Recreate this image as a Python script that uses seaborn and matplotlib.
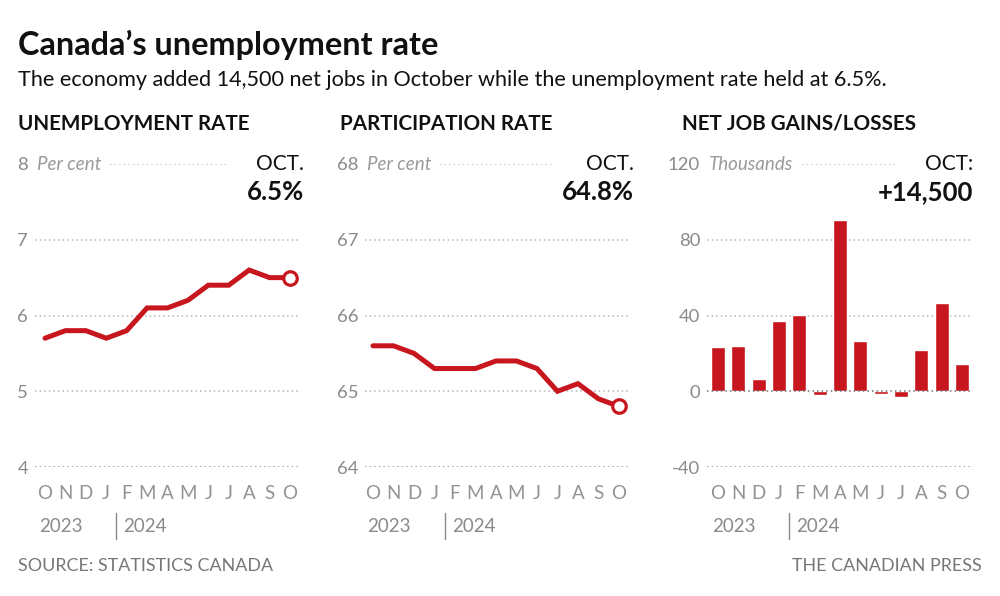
import matplotlib
matplotlib.use("Agg")
import matplotlib.pyplot as plt
import matplotlib.transforms as mtransforms
import seaborn as sns
import pandas as pd

# data, Oct 2023 - Oct 2024
month_ids = ["2023-10", "2023-11", "2023-12", "2024-01", "2024-02", "2024-03", "2024-04",
             "2024-05", "2024-06", "2024-07", "2024-08", "2024-09", "2024-10"]
month_letters = ["O", "N", "D", "J", "F", "M", "A", "M", "J", "J", "A", "S", "O"]
unemployment = [5.7, 5.8, 5.8, 5.7, 5.8, 6.1, 6.1, 6.2, 6.4, 6.4, 6.6, 6.5, 6.5]
participation = [65.6, 65.6, 65.5, 65.3, 65.3, 65.3, 65.4, 65.4, 65.3, 65.0, 65.1, 64.9, 64.8]
net_jobs = [23.6, 24.1, 6.7, 37.0, 40.5, -2.2, 90.4, 26.6, -1.4, -2.8, 22.0, 46.7, 14.5]

unemp_ticks = [4, 5, 6, 7, 8]
part_ticks = [64, 65, 66, 67, 68]
jobs_ticks = [-40, 0, 40, 80, 120]

RED = "#c8161e"
GREY = "#8a8a8a"
GRID = "#b5b5b5"

sns.set_theme(style="white")
plt.rcParams["font.family"] = ["Lato", "DejaVu Sans"]

W, H = 1000, 596
fig = plt.figure(figsize=(W / 100, H / 100), dpi=100)
fig.patch.set_facecolor("white")


def px_axes(x0, x1, y0, y1):
    return fig.add_axes([x0 / W, 1 - y1 / H, (x1 - x0) / W, (y1 - y0) / H])


def fy(y):
    return 1 - y / H


fig.text(18 / W, fy(45), "Canada\u2019s unemployment rate", fontsize=23.3, fontweight="bold",
         color="#111111", va="center", ha="left")
fig.text(18 / W, fy(80), "The economy added 14,500 net jobs in October while the unemployment rate held at 6.5%.",
         fontsize=15.6, color="#111111", va="center", ha="left")
fig.text(18 / W, fy(566), "SOURCE: STATISTICS CANADA", fontsize=12.9, color="#777777", va="center", ha="left")
fig.text(982 / W, fy(566), "THE CANADIAN PRESS", fontsize=12.9, color="#777777", va="center", ha="right")

panels = [
    dict(title="UNEMPLOYMENT RATE", tx=18, ax=(35, 300), xlim=(-0.49, 12.49),
         ticks=unemp_ticks, unit="Per cent", seg=(0.283, 0.725),
         values=unemployment, kind="line", big="6.5%"),
    dict(title="PARTICIPATION RATE", tx=340, ax=(365, 630), xlim=(-0.39, 12.54),
         ticks=part_ticks, unit="Per cent", seg=(0.283, 0.706),
         values=participation, kind="line", big="64.8%"),
    dict(title="NET JOB GAINS/LOSSES", tx=682, ax=(707, 973), xlim=(-0.54, 12.54),
         ticks=jobs_ticks, unit="Thousands", seg=(0.357, 0.707),
         values=net_jobs, kind="bar", big="+14,500"),
]

for p in panels:
    fig.text(p["tx"] / W, fy(124), p["title"], fontsize=14.9, fontweight="bold",
             color="#111111", va="center", ha="left")

    ax = px_axes(p["ax"][0], p["ax"][1], 164, 467)
    df = pd.DataFrame({"month": month_ids, "idx": range(len(month_ids)), "value": p["values"]})

    if p["kind"] == "line":
        sns.lineplot(data=df, x="idx", y="value", ax=ax, color=RED, linewidth=3.6,
                     solid_joinstyle="miter", zorder=3)
        ax.scatter(df["idx"].iloc[-1], df["value"].iloc[-1], s=95, facecolor="white",
                   edgecolor=RED, linewidth=2.3, zorder=4, clip_on=False)
    else:
        sns.barplot(data=df, x="month", y="value", ax=ax, color=RED, width=0.7,
                    saturation=1, zorder=3)

    ticks = p["ticks"]
    ax.set_ylim(ticks[0], ticks[-1])
    ax.set_xlim(*p["xlim"])
    for t in ticks[:-1]:
        if p["kind"] == "bar" and t == 0:
            col, z = "#707070", 4
        elif t == ticks[0]:
            col, z = "#8f8f8f", 1
        else:
            col, z = GRID, 1
        ax.axhline(t, color=col, linestyle=(0, (1, 2)), linewidth=1.1, zorder=z)
    ax.axhline(ticks[-1], xmin=p["seg"][0], xmax=p["seg"][1], color=GRID,
               linestyle=(0, (1, 2)), linewidth=1.1, zorder=1)

    ax.set_yticks(ticks)
    ax.set_yticklabels([str(t) for t in ticks])
    ax.set_xticks(range(len(month_letters)))
    ax.set_xticklabels(month_letters)
    ax.tick_params(axis="y", length=0, pad=5, labelsize=13.3, labelcolor=GREY)
    ax.tick_params(axis="x", length=0, pad=13, labelsize=13.5, labelcolor="#939393")
    ax.set_xlabel("")
    ax.set_ylabel("")
    for s in ax.spines.values():
        s.set_visible(False)
    ax.set_facecolor("none")

    # unit label next to the top tick
    ax.annotate(p["unit"], xy=(0.0, ticks[-1]),
                xycoords=mtransforms.blended_transform_factory(ax.transAxes, ax.transData),
                xytext=(1.5, 0), textcoords="offset points",
                fontsize=13.5, style="italic", color="#9a9a9a", va="center", ha="left")

    # latest value callout
    right = (p["ax"][1] + 4) / W if p["kind"] == "line" else p["ax"][1] / W
    fig.text(right, fy(164), "OCT." if p["kind"] == "line" else "OCT:", fontsize=15,
             color="#111111", va="center", ha="right")
    fig.text(right, fy(192), p["big"], fontsize=18.5, fontweight="bold",
             color="#111111", va="center", ha="right")

    # year labels under the months
    tr = mtransforms.blended_transform_factory(ax.transData, fig.transFigure)
    ax.text(-0.3, fy(526), "2023", transform=tr, fontsize=13.5, color=GREY,
            va="center", ha="left")
    ax.text(3.85, fy(526), "2024", transform=tr, fontsize=13.5, color=GREY,
            va="center", ha="left")
    ax.plot([3.5, 3.5], [fy(513), fy(539)], transform=tr, color=GREY,
            linewidth=1, clip_on=False)

fig.savefig("out.png", dpi=100, facecolor="white")
